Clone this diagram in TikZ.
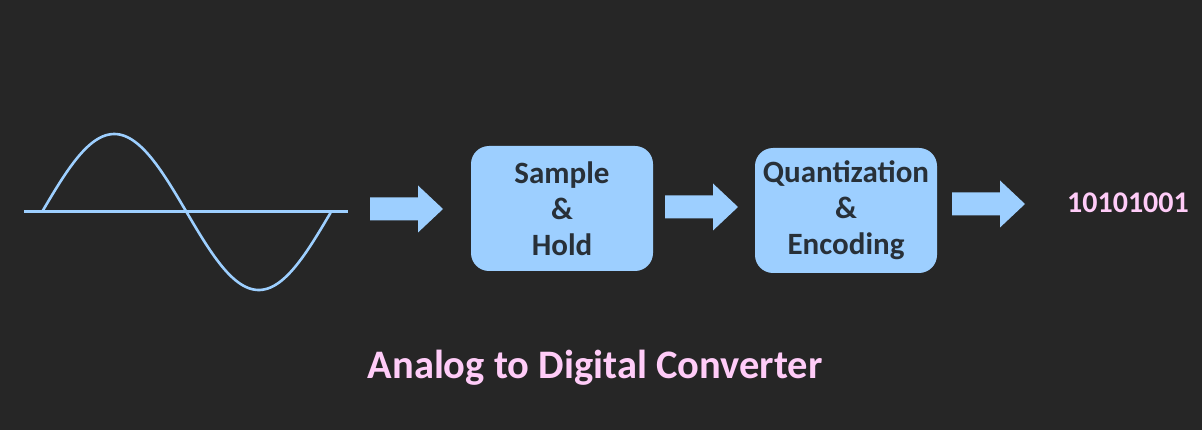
\documentclass[tikz,border=0pt]{standalone}
\usepackage{fontspec}
\setmainfont{Carlito}
\definecolor{bg}{HTML}{262626}
\definecolor{lblue}{HTML}{9DCFFF}
\definecolor{pinktxt}{HTML}{FFCCF8}
\definecolor{boxtxt}{HTML}{283038}
\begin{document}
\begin{tikzpicture}[x=1pt,y=-1pt,
  stagebox/.style={fill=lblue, draw=none, rounded corners=18pt, minimum width=182pt, minimum height=125pt,
    align=center, text=boxtxt, font=\fontsize{31}{36}\selectfont\bfseries, inner sep=0pt},
  pinklabel/.style={text=pinktxt, font=\bfseries, inner sep=0pt},
  fatarrow/.pic={\fill[lblue] (0,-11.5) -- (48,-11.5) -- (48,-23.5) -- (73,0) -- (48,23.5) -- (48,11.5) -- (0,11.5) -- cycle;}
]
\useasboundingbox (0,0) rectangle (1202,430);
\fill[bg] (0,0) rectangle (1202,430);
% axis and sine wave
\coordinate (axL) at (24,212);
\coordinate (axR) at (348,212);
\draw[lblue, line width=3pt] (axL) -- (axR);
\draw[lblue, line width=2.6pt, domain=0:1, samples=120, smooth, variable=\t]
  plot ({42+289*\t},{212-78*sin(360*\t)});
% arrows
\pic at (370,209) {fatarrow};
\pic at (665,207) {fatarrow};
\pic at (952,204) {fatarrow};
% boxes
\node[stagebox] (sh) at (562,208.5) {Sample\\\&\\Hold};
\node[stagebox] (qe) at (846,210.5) {Quantization\\\&\\Encoding};
% output
\node[pinklabel, font=\fontsize{30}{34}\selectfont\bfseries] (out) at (1128,203) {10101001};
\node[pinklabel, font=\fontsize{40.5}{44}\selectfont\bfseries] (title) at (595,368) {Analog to Digital Converter};
\end{tikzpicture}
\end{document}
